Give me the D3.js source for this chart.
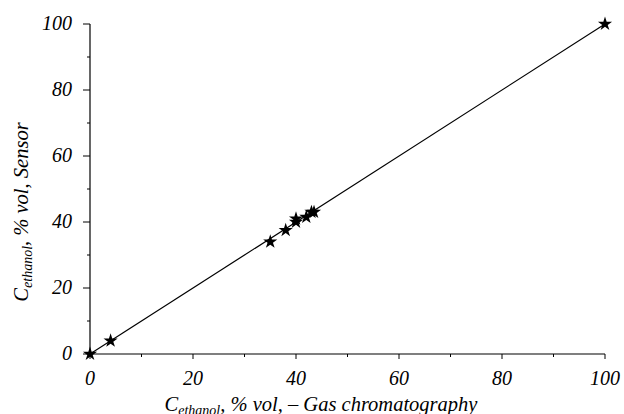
<!DOCTYPE html>
<html><head><meta charset="utf-8">
<script src="https://cdn.jsdelivr.net/npm/d3@7"></script>
<style>body{margin:0;background:#fff}svg{display:block}text{font-family:"Liberation Serif","DejaVu Serif",serif;font-style:italic}</style>
</head><body>
<script>
const gcValues = [0, 4, 35, 38, 40, 40, 42, 43, 43.5, 100];
const sensorValues = [0, 4, 34, 37.5, 41, 40, 41.5, 43, 43, 100];
const majorTicks = [0, 20, 40, 60, 80, 100];
const minorTicks = [10, 30, 50, 70, 90];
const fitLine = [[0, 0], [100, 100]];

const W = 624, H = 414;
const svg = d3.select("body").append("svg").attr("width", W).attr("height", H);
const x = d3.scaleLinear().domain([0, 100]).range([90, 605]);
const y = d3.scaleLinear().domain([0, 100]).range([354, 24]);

// x axis
const gx = svg.append("g");
gx.append("line").attr("x1", x(0)).attr("x2", x(100)).attr("y1", y(0)).attr("y2", y(0)).attr("stroke", "#000").attr("stroke-width", 1.2);
gx.selectAll(".mj").data(majorTicks).join("line").attr("x1", d => x(d)).attr("x2", d => x(d)).attr("y1", y(0)).attr("y2", y(0) + 5).attr("stroke", "#000");
gx.selectAll(".mn").data(minorTicks).join("line").attr("class","mn").attr("x1", d => x(d)).attr("x2", d => x(d)).attr("y1", y(0)).attr("y2", y(0) + 3).attr("stroke", "#000");
gx.selectAll("text").data(majorTicks).join("text").attr("x", d => x(d)).attr("y", 385).attr("text-anchor", "middle").attr("font-size", 20).text(d => d);

// y axis
const gy = svg.append("g");
gy.append("line").attr("x1", x(0)).attr("x2", x(0)).attr("y1", y(0)).attr("y2", y(100)).attr("stroke", "#000").attr("stroke-width", 1.2);
gy.selectAll(".mj").data(majorTicks).join("line").attr("x1", x(0) - 7).attr("x2", x(0)).attr("y1", d => y(d)).attr("y2", d => y(d)).attr("stroke", "#000");
gy.selectAll(".mn").data(minorTicks).join("line").attr("class","mn").attr("x1", x(0) - 3).attr("x2", x(0)).attr("y1", d => y(d)).attr("y2", d => y(d)).attr("stroke", "#000");
gy.selectAll("text").data(majorTicks).join("text").attr("x", 72).attr("y", d => y(d) + 6).attr("text-anchor", "end").attr("font-size", 20).text(d => d);

// fit line
svg.append("path").attr("d", d3.line().x(d => x(d[0])).y(d => y(d[1]))(fitLine)).attr("stroke", "#000").attr("stroke-width", 1.2).attr("fill", "none");

// stars
const star = d3.symbol().type(d3.symbolStar).size(62);
svg.selectAll(".pt").data(gcValues).join("path").attr("class", "pt")
  .attr("transform", (d, i) => `translate(${x(d)},${y(sensorValues[i])})`)
  .attr("d", star).attr("fill", "#000");

// axis labels
const xl = svg.append("text").attr("x", 321).attr("y", 411).attr("text-anchor", "middle").attr("font-size", 20.5);
xl.append("tspan").text("C");
xl.append("tspan").attr("font-size", 14).attr("dy", 4).text("ethanol");
xl.append("tspan").attr("dy", -4).text(", % vol, – Gas chromatography");

const yl = svg.append("text").attr("transform", "translate(28,212) rotate(-90)").attr("text-anchor", "middle").attr("font-size", 20.5);
yl.append("tspan").text("C");
yl.append("tspan").attr("font-size", 14).attr("dy", 4).text("ethanol");
yl.append("tspan").attr("dy", -4).text(", % vol, Sensor");
</script>
</body></html>
